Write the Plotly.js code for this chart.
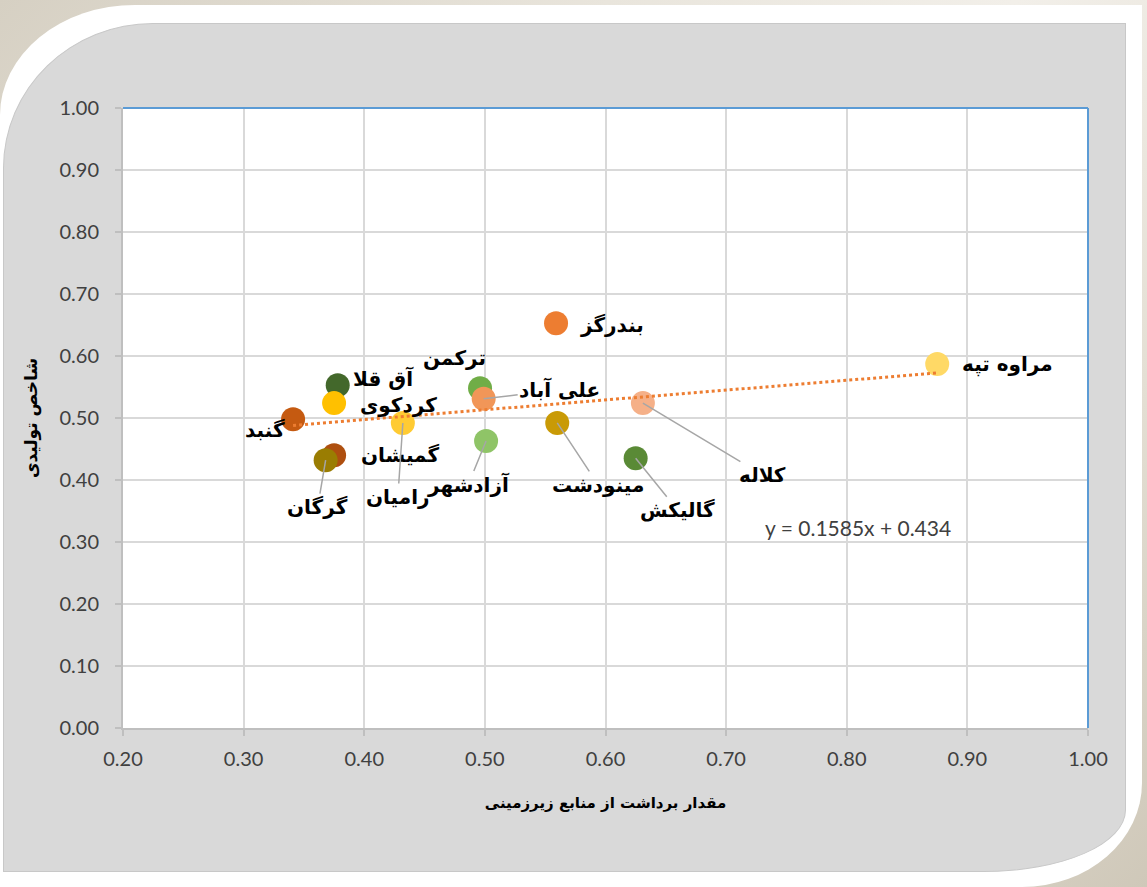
<!DOCTYPE html>
<html>
<head>
<meta charset="utf-8">
<script src="https://cdn.plot.ly/plotly-3.0.1.min.js"></script>
<style>
  html, body { margin:0; padding:0; width:1147px; height:887px; overflow:hidden;
    background: linear-gradient(135deg, #d6d0c3 0%, #e9e5dc 30%, #f2efe9 50%, #e4dfd4 75%, #cfc8b9 100%); }
  #outer { position:absolute; left:0; top:5px; width:1142px; height:882px; background:#ffffff;
    border-top-left-radius:135px 110px; border-bottom-right-radius:120px 104px; }
  #panel { position:absolute; left:3px; top:23px; width:1121px; height:847px; background:#d9d9d9;
    border:1px solid #c8c8c8; border-top-left-radius:150px 145px; border-bottom-right-radius:142px 62px; }
  #chart { position:absolute; left:0; top:0; width:1147px; height:887px; }
</style>
</head>
<body>
<div id="outer"></div>
<div id="panel"></div>
<div id="chart"></div>
<script>
// ---- data ----
const names = ["گنبد","آق قلا","کردکوی","گمیشان","گرگان","رامیان","ترکمن","علی آباد","آزادشهر","بندرگز","مینودشت","کلاله","گالیکش","مراوه تپه"];
const xVals = [0.341, 0.378, 0.375, 0.375, 0.368, 0.432, 0.496, 0.499, 0.501, 0.559, 0.560, 0.631, 0.625, 0.875];
const yVals = [0.498, 0.553, 0.524, 0.440, 0.432, 0.492, 0.548, 0.531, 0.463, 0.653, 0.492, 0.524, 0.435, 0.587];
const colors = ["#C55A11","#43682B","#FFC000","#AE4F0F","#9A7D02","#FFCB33","#70AD47","#F19658","#8FC467","#ED7D31","#C99A06","#F5B088","#5A8A36","#FFD966"];
const xTicks = [0.20,0.30,0.40,0.50,0.60,0.70,0.80,0.90,1.00];
const yTicks = [0.00,0.10,0.20,0.30,0.40,0.50,0.60,0.70,0.80,0.90,1.00];
const slope = 0.1585, intercept = 0.434;
const eqText = "y = 0.1585x + 0.434";
const xTitle = "مقدار برداشت از منابع زیرزمینی";
const yTitle = "شاخص تولیدی";

// ---- label placement (screen px offsets) ----
const labelOffsets = [[-28,11,false],[46,-7,false],[64,2,false],[66,0,false],[-8,47,true],[-5,74,true],
  [-26,-30,false],[76,-9,true],[-18,44,true],[56,2,false],[41,62,true],[120,72,true],[42,52,true],[70,0,false]];

const xMin = Math.min(...xVals), xMax = Math.max(...xVals);
const trendX = [xMin, xMax];
const trendY = trendX.map(v => slope * v + intercept);

const labelFont = {family:"DejaVu Sans, sans-serif", size:20, color:"#000000", weight:"bold"};
const annotations = names.map((n, i) => {
  const o = labelOffsets[i];
  if (o[2]) {
    return {x:xVals[i], y:yVals[i], xref:"x", yref:"y", text:"<b>"+n+"</b>", font:labelFont,
      showarrow:true, arrowhead:0, arrowwidth:1.5, arrowcolor:"#A6A6A6", ax:o[0], ay:o[1], standoff:0};
  }
  return {x:xVals[i], y:yVals[i], xref:"x", yref:"y", text:"<b>"+n+"</b>", font:labelFont,
    showarrow:false, xshift:o[0], yshift:-o[1]};
});
annotations.push({x:0.809, y:0.324, xref:"x", yref:"y", text:eqText, showarrow:false,
  font:{family:"Lato, sans-serif", size:21, color:"#404040"}});

const tickFont = {family:"Lato, sans-serif", size:20, color:"#404040"};

const data = [
  {type:"scatter", mode:"markers", x:xVals, y:yVals, text:names,
   marker:{size:24, color:colors, line:{width:0}}, hoverinfo:"text+x+y", showlegend:false},
  {type:"scatter", mode:"lines", x:trendX, y:trendY,
   line:{color:"#ED7D31", width:3, dash:"dot"}, hoverinfo:"skip", showlegend:false}
];

const layout = {
  width:1147, height:887,
  margin:{l:123, r:59, t:108, b:159},
  paper_bgcolor:"rgba(0,0,0,0)", plot_bgcolor:"#ffffff",
  showlegend:false,
  xaxis:{range:[0.2,1.0], tickvals:xTicks, ticktext:xTicks.map(v=>v.toFixed(2)),
    showgrid:true, gridcolor:"#D9D9D9", gridwidth:2, zeroline:false,
    showline:true, linecolor:"#BFBFBF", linewidth:2, ticks:"outside", ticklen:6, tickcolor:"#BFBFBF", tickwidth:2,
    tickfont:tickFont, automargin:false, ticklabelstandoff:6,
    title:{text:"<b>"+xTitle+"</b>", font:{family:"DejaVu Sans, sans-serif", size:15, color:"#000000"}, standoff:28}},
  yaxis:{range:[0,1.0], tickvals:yTicks, ticktext:yTicks.map(v=>v.toFixed(2)),
    showgrid:true, gridcolor:"#D9D9D9", gridwidth:2, zeroline:false,
    showline:true, linecolor:"#BFBFBF", linewidth:2, ticks:"outside", ticklen:6, tickcolor:"#BFBFBF", tickwidth:2,
    tickfont:tickFont, automargin:false, ticklabelstandoff:12,
    title:{text:"<b>"+yTitle+"</b>", font:{family:"DejaVu Sans, sans-serif", size:17, color:"#000000"}, standoff:18}},
  shapes:[
    {type:"line", xref:"paper", yref:"paper", x0:0, x1:1, y0:1, y1:1, line:{color:"#5B9BD5", width:2}},
    {type:"line", xref:"paper", yref:"paper", x0:1, x1:1, y0:0, y1:1, line:{color:"#5B9BD5", width:2}}
  ],
  annotations:annotations
};

Plotly.newPlot("chart", data, layout, {displayModeBar:false, staticPlot:true});
</script>
</body>
</html>
